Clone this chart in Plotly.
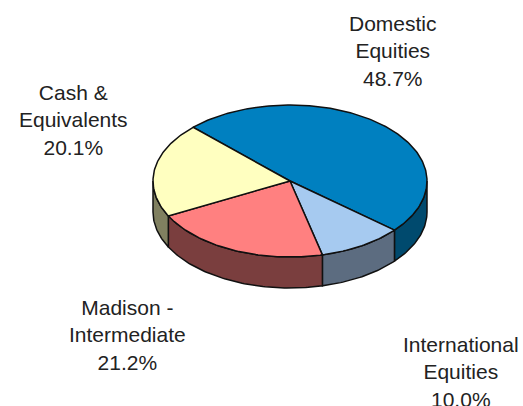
import numpy as np
import plotly.graph_objects as go

categories = ["Domestic<br>Equities", "International<br>Equities", "Madison -<br>Intermediate", "Cash &<br>Equivalents"]
values = [48.7, 10.0, 21.2, 20.1]
top_colors = ["#0080C0", "#A6CAF0", "#FF8080", "#FFFFC0"]
side_colors = ["#004A6E", "#5C6C80", "#7A3E3E", "#808060"]
label_pos = [(393, 51), (461, 372), (127, 335), (73, 120)]

CX, CY, RX, RY, DEPTH = 290, 181, 137, 76, 31
START = -45.0


def rim(a0, a1):
    t = np.radians(np.linspace(a0, a1, max(int(abs(a1 - a0)), 2) + 1))
    return CX + RX * np.sin(t), CY - RY * np.cos(t)


fig = go.Figure()
edges = np.cumsum([0] + [v * 3.6 for v in values]) + START

# side walls: only the near half of the rim (90 to 270 degrees clockwise from top) shows
for i, color in enumerate(side_colors):
    a0, a1 = max(edges[i], 90), min(edges[i + 1], 270)
    if a1 <= a0:
        continue
    x, y = rim(a0, a1)
    fig.add_trace(go.Scatter(
        x=np.r_[x, x[::-1], x[0]], y=np.r_[y, y[::-1] + DEPTH, y[0]],
        mode="lines", fill="toself", fillcolor=color,
        line=dict(color="#101010", width=1.5), hoverinfo="skip"))

# top faces
for i, color in enumerate(top_colors):
    x, y = rim(edges[i], edges[i + 1])
    fig.add_trace(go.Scatter(
        x=np.r_[CX, x, CX], y=np.r_[CY, y, CY],
        mode="lines", fill="toself", fillcolor=color,
        line=dict(color="#101010", width=1.5), hoverinfo="skip"))

for name, v, (px, py) in zip(categories, values, label_pos):
    fig.add_annotation(x=px, y=py, text=f"{name}<br>{v:.1f}%", showarrow=False,
                       xanchor="center", yanchor="middle", align="center",
                       font=dict(family="Liberation Sans", size=21, color="#222222"))

fig.update_layout(
    width=523, height=406, margin=dict(l=0, r=0, t=0, b=0),
    paper_bgcolor="white", plot_bgcolor="white", showlegend=False,
    xaxis=dict(range=[0, 523], visible=False, fixedrange=True),
    yaxis=dict(range=[406, 0], visible=False, fixedrange=True),
)
fig.write_html("out.html", config={"displayModeBar": False},
               post_script="document.body.style.margin='0';document.body.style.overflow='hidden';")
